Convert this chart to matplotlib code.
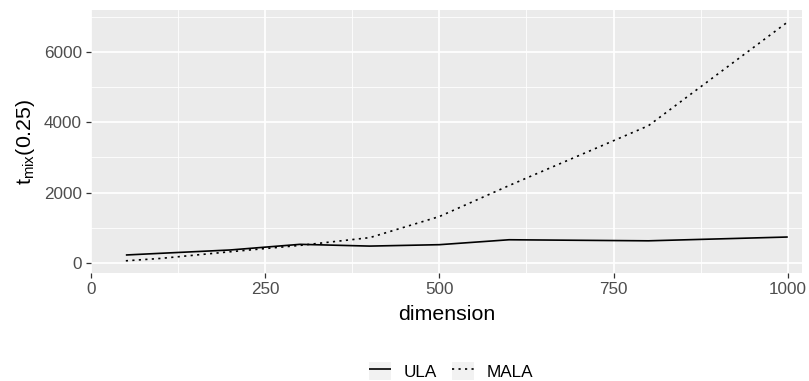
import matplotlib
matplotlib.use("Agg")
import matplotlib.pyplot as plt
from matplotlib.legend_handler import HandlerLine2D
from matplotlib.patches import Rectangle
from matplotlib.ticker import MultipleLocator

plt.rcParams["font.family"] = ["Liberation Sans", "DejaVu Sans"]
plt.rcParams["mathtext.fontset"] = "custom"
plt.rcParams["mathtext.rm"] = "Liberation Sans"
plt.rcParams["mathtext.it"] = "Liberation Sans"

# ---- data ----
dimension = [50, 100, 200, 300, 400, 500, 600, 800, 1000]
ula = [227, 275, 370, 530, 480, 520, 660, 630, 738]
mala = [62, 130, 320, 500, 720, 1320, 2200, 3900, 6850]
x_ticks = [0, 250, 500, 750, 1000]
y_ticks = [0, 2000, 4000, 6000]

PANEL = "#EBEBEB"
KEY_BG = "#F2F2F2"
TICK_TXT = "#4D4D4D"
TICK_CLR = "#333333"


class KeyHandler(HandlerLine2D):
    """legend key with ggplot-like grey background"""

    def create_artists(self, legend, orig_handle, xdescent, ydescent,
                       width, height, fontsize, trans):
        bg = Rectangle((-xdescent, -ydescent), width, height,
                       facecolor=KEY_BG, edgecolor="none", transform=trans)
        arts = super().create_artists(legend, orig_handle, xdescent, ydescent,
                                      width, height, fontsize, trans)
        return [bg] + list(arts)


fig = plt.figure(figsize=(8.09, 3.81), dpi=100)
ax = fig.add_axes([91 / 809, 1 - 272.7 / 381, (801.7 - 91) / 809, (272.7 - 10) / 381])
ax.set_facecolor(PANEL)
for s in ax.spines.values():
    s.set_visible(False)

ax.set_xlim(0.5, 1020)
ax.set_ylim(-276, 7188)
ax.set_xticks(x_ticks)
ax.set_yticks(y_ticks)
ax.xaxis.set_minor_locator(MultipleLocator(125))
ax.yaxis.set_minor_locator(MultipleLocator(1000))
ax.grid(which="major", color="white", linewidth=1.25)
ax.grid(which="minor", color="white", linewidth=0.6)
ax.set_axisbelow(True)
ax.tick_params(which="major", length=3.4, width=0.9, color=TICK_CLR,
               labelcolor=TICK_TXT, labelsize=12.3, pad=3.2)
ax.tick_params(which="minor", length=0)

l_ula, = ax.plot(dimension, ula, color="black", linewidth=1.2,
                 solid_capstyle="butt", label="ULA")
l_mala, = ax.plot(dimension, mala, color="black", linewidth=1.2,
                  linestyle=(0, (1.3, 2.6)), dash_capstyle="butt", label="MALA")

ax.set_xlabel("dimension", fontsize=15.4, labelpad=6)
ax.set_ylabel(r"$\mathregular{t_{mix}(0.25)}$", fontsize=15.4, labelpad=5)

fig.legend(handles=[l_ula, l_mala], loc="center",
           bbox_to_anchor=(451.5 / 809, 1 - 371 / 381),
           ncol=2, frameon=False, fontsize=12.3,
           handlelength=1.27, handleheight=1.23, handletextpad=0.76,
           columnspacing=0.88, borderpad=0, borderaxespad=0,
           handler_map={l_ula: KeyHandler(), l_mala: KeyHandler()})

fig.savefig("out.png", dpi=100)
